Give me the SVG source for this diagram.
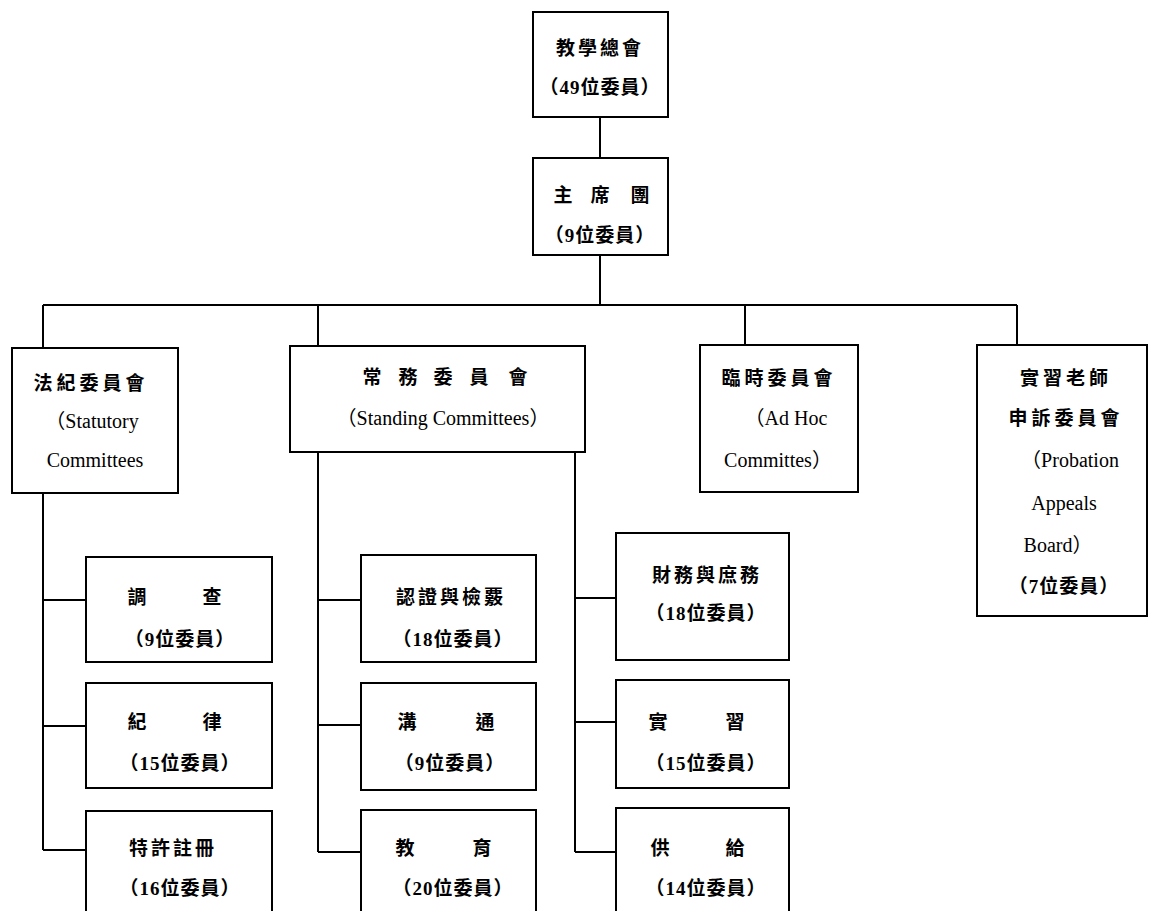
<svg xmlns="http://www.w3.org/2000/svg" width="1152" height="911" viewBox="0 0 1152 911">
<style>
.box{fill:#fff;stroke:#000;stroke-width:2}
.ln{fill:none;stroke:#000;stroke-width:2}
text{font-family:"Liberation Serif","Noto Sans CJK TC",serif;font-size:19px;fill:#000;text-anchor:middle;font-weight:bold}
.en{font-size:20px;font-weight:normal}
</style>
<rect width="1152" height="911" fill="#fff"/>
<g id="connectors">
<path class="ln" d="M600 117V158M600 255V305M43 305H1017M43 305V348M318 305V346M745 305V345M1017 305V345"/>
<path class="ln" d="M43 493V850M43 600H86M43 726H86M43 850H86"/>
<path class="ln" d="M318 452V852M318 600H361M318 725H361M318 852H361"/>
<path class="ln" d="M575 452V852M575 598H616M575 722H616M575 852H616"/>
</g>
<g id="n-general">
<rect class="box" x="533" y="12" width="135" height="105"/>
<text x="600" y="55" letter-spacing="3">教學總會</text>
<text x="600" y="94" letter-spacing="1">（49位委員）</text>
</g>
<g id="n-chair">
<rect class="box" x="533" y="158" width="135" height="97"/>
<text x="563" y="202">主</text><text x="600" y="202">席</text><text x="640" y="202">團</text>
<text x="600" y="242" letter-spacing="1">（9位委員）</text>
</g>
<g id="n-statutory">
<rect class="box" x="12" y="348" width="166" height="145"/>
<text x="91" y="390" letter-spacing="4">法紀委員會</text>
<text class="en" x="92" y="428">（Statutory</text>
<text class="en" x="95" y="467">Committees</text>
</g>
<g id="n-standing">
<rect class="box" x="290" y="346" width="295" height="106"/>
<text x="372" y="384">常</text><text x="408" y="384">務</text><text x="443" y="384">委</text><text x="479" y="384">員</text><text x="518" y="384">會</text>
<text class="en" x="443" y="425">（Standing Committees）</text>
</g>
<g id="n-adhoc">
<rect class="box" x="700" y="345" width="158" height="147"/>
<text x="779" y="385" letter-spacing="4">臨時委員會</text>
<text class="en" x="786" y="425">（Ad Hoc</text>
<text class="en" x="778" y="467">Committes）</text>
</g>
<g id="n-probation">
<rect class="box" x="977" y="345" width="170" height="271"/>
<text x="1066" y="385" letter-spacing="4">實習老師</text>
<text x="1066" y="425" letter-spacing="4">申訴委員會</text>
<text class="en" x="1070" y="467">（Probation</text>
<text class="en" x="1064" y="510">Appeals</text>
<text class="en" x="1058" y="552">Board）</text>
<text x="1064" y="593" letter-spacing="1">（7位委員）</text>
</g>
<g id="n-investigation">
<rect class="box" x="86" y="557" width="186" height="105"/>
<text x="137" y="604">調</text><text x="212" y="604">查</text>
<text x="180" y="646" letter-spacing="1">（9位委員）</text>
</g>
<g id="n-discipline">
<rect class="box" x="86" y="683" width="186" height="105"/>
<text x="137" y="729">紀</text><text x="212" y="729">律</text>
<text x="180" y="770" letter-spacing="1">（15位委員）</text>
</g>
<g id="n-registration">
<rect class="box" x="86" y="811" width="186" height="110"/>
<text x="173" y="855" letter-spacing="3">特許註冊</text>
<text x="180" y="895" letter-spacing="1">（16位委員）</text>
</g>
<g id="n-accreditation">
<rect class="box" x="361" y="555" width="175" height="107"/>
<text x="451" y="604" letter-spacing="3">認證與檢覈</text>
<text x="453" y="646" letter-spacing="1">（18位委員）</text>
</g>
<g id="n-communication">
<rect class="box" x="361" y="683" width="175" height="107"/>
<text x="407" y="729">溝</text><text x="485" y="729">通</text>
<text x="450" y="770" letter-spacing="1">（9位委員）</text>
</g>
<g id="n-education">
<rect class="box" x="361" y="810" width="175" height="110"/>
<text x="405" y="855">教</text><text x="482" y="855">育</text>
<text x="453" y="895" letter-spacing="1">（20位委員）</text>
</g>
<g id="n-finance">
<rect class="box" x="616" y="533" width="173" height="127"/>
<text x="707" y="582" letter-spacing="3">財務與庶務</text>
<text x="706" y="620" letter-spacing="1">（18位委員）</text>
</g>
<g id="n-practicum">
<rect class="box" x="616" y="680" width="173" height="108"/>
<text x="658" y="729">實</text><text x="735" y="729">習</text>
<text x="706" y="770" letter-spacing="1">（15位委員）</text>
</g>
<g id="n-supply">
<rect class="box" x="616" y="808" width="173" height="112"/>
<text x="660" y="855">供</text><text x="735" y="855">給</text>
<text x="706" y="895" letter-spacing="1">（14位委員）</text>
</g>
</svg>
